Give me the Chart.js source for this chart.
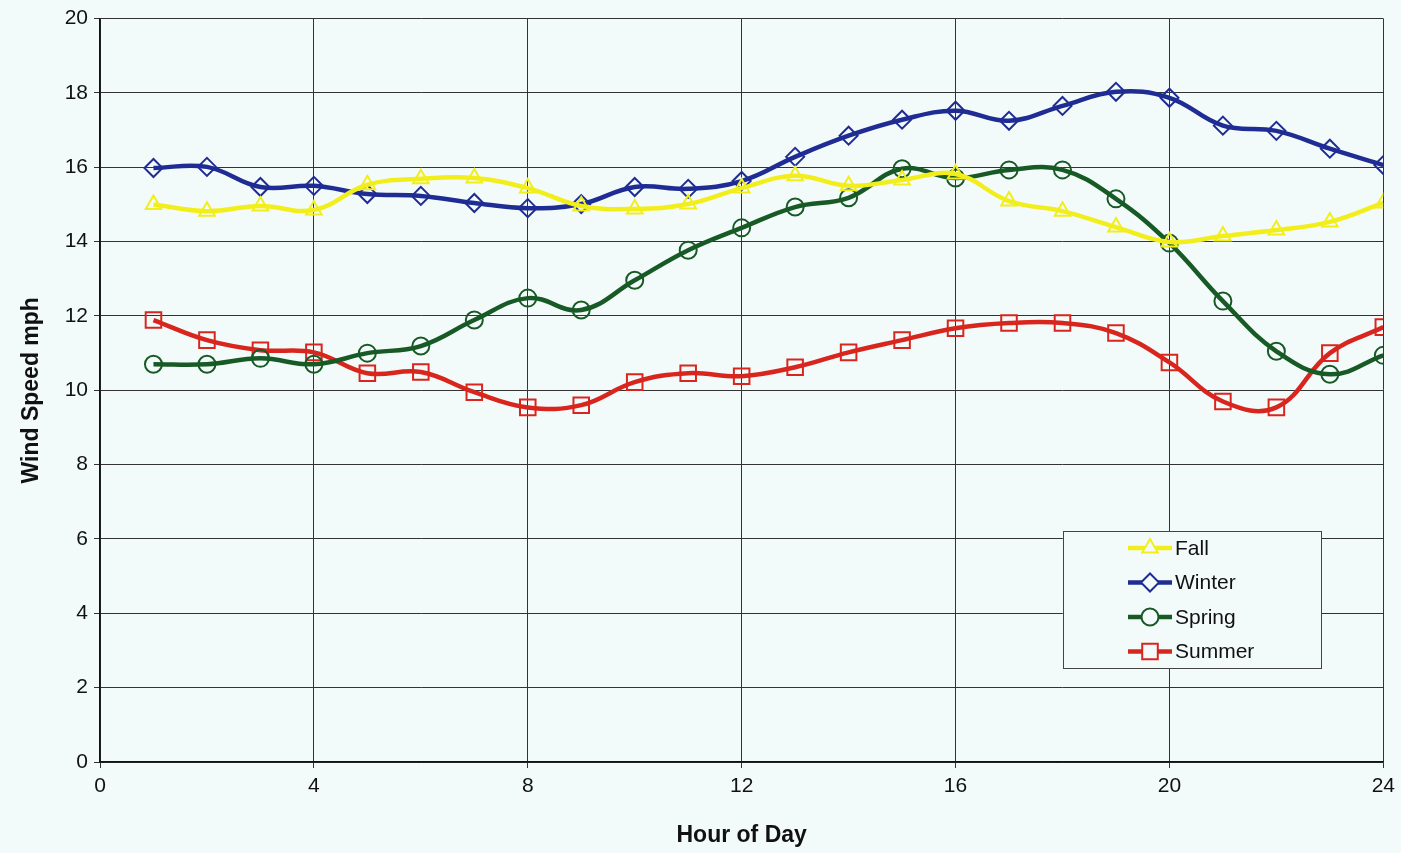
<!DOCTYPE html>
<html>
<head>
<meta charset="utf-8">
<script src="https://cdn.jsdelivr.net/npm/chart.js@4.4.0/dist/chart.umd.min.js"></script>
<style>
  html, body { margin: 0; padding: 0; background: #f3fbfa; }
  #wrap { width: 1401px; height: 853px; position: relative; }
</style>
</head>
<body>
<div id="wrap"><canvas id="wind-chart"></canvas></div>
<script>
var hours = [1, 2, 3, 4, 5, 6, 7, 8, 9, 10, 11, 12, 13, 14, 15, 16, 17, 18, 19, 20, 21, 22, 23, 24];
var fall = [15.0, 14.82, 14.96, 14.85, 15.53, 15.69, 15.71, 15.44, 14.96, 14.88, 15.01, 15.44,
            15.77, 15.5, 15.66, 15.82, 15.09, 14.82, 14.39, 13.99, 14.15, 14.31, 14.53, 15.04];
var winter = [15.98, 16.01, 15.47, 15.5, 15.28, 15.23, 15.04, 14.9, 15.01, 15.47, 15.42, 15.63,
              16.28, 16.85, 17.28, 17.52, 17.25, 17.65, 18.03, 17.87, 17.12, 16.98, 16.5, 16.06];
var spring = [10.7, 10.7, 10.86, 10.7, 11.0, 11.19, 11.89, 12.48, 12.16, 12.96, 13.77, 14.37,
              14.93, 15.18, 15.96, 15.71, 15.93, 15.93, 15.15, 13.96, 12.4, 11.05, 10.43, 10.94];
var summer = [11.89, 11.35, 11.08, 11.02, 10.46, 10.49, 9.95, 9.54, 9.6, 10.22, 10.46, 10.38,
              10.62, 11.02, 11.35, 11.67, 11.81, 11.81, 11.54, 10.75, 9.7, 9.54, 11.0, 11.7];

var seriesNames = ["Fall", "Winter", "Spring", "Summer"];
var seriesValues = [fall, winter, spring, summer];
var seriesColors = ["#f2ee1c", "#1f2c94", "#185a26", "#d8261e"];
var seriesMarkers = ["triangle", "rectRot", "circle", "rect"];
var markerSizes = [9, 9, 8.5, 11];

function points(vals) {
  return hours.map(function (h, i) { return { x: h, y: vals[i] }; });
}

var datasets = [];
for (var s = 0; s < seriesNames.length; s++) {
  datasets.push({
    label: seriesNames[s],
    data: points(seriesValues[s]),
    borderColor: seriesColors[s],
    backgroundColor: "rgba(0,0,0,0)",
    borderWidth: 4.5,
    tension: 0.4,
    pointStyle: seriesMarkers[s],
    pointRadius: markerSizes[s],
    pointBorderWidth: 2,
    pointBorderColor: seriesColors[s],
    pointBackgroundColor: "rgba(0,0,0,0)"
  });
}

// legend box drawn inside the plot, like the original
var boxLegend = {
  id: "boxLegend",
  afterDraw: function (chart) {
    var ctx = chart.ctx;
    var x0 = 1063, y0 = 531, w = 258, h = 137;
    ctx.save();
    ctx.fillStyle = "#f3fbfa";
    ctx.strokeStyle = "#444";
    ctx.lineWidth = 1;
    ctx.fillRect(x0, y0, w, h);
    ctx.strokeRect(x0 + 0.5, y0 + 0.5, w, h);
    ctx.font = "21px 'Liberation Sans', Arial, sans-serif";
    ctx.textBaseline = "middle";
    chart.data.datasets.forEach(function (ds, i) {
      var cy = 548 + i * 34.5;
      ctx.strokeStyle = ds.borderColor;
      ctx.lineWidth = 4.5;
      ctx.beginPath();
      ctx.moveTo(1128, cy);
      ctx.lineTo(1172, cy);
      ctx.stroke();
      ctx.fillStyle = "#f3fbfa";
      ctx.strokeStyle = ds.borderColor;
      ctx.lineWidth = 2;
      Chart.helpers.drawPoint(ctx, {
        pointStyle: ds.pointStyle, rotation: 0, borderWidth: 2,
        radius: ds.pointRadius
      }, 1150, cy);
      ctx.fillStyle = "#111";
      ctx.fillText(ds.label, 1175, cy + 1);
    });
    ctx.restore();
  }
};

new Chart(document.getElementById("wind-chart"), {
  type: "line",
  data: { datasets: datasets },
  plugins: [boxLegend],
  options: {
    responsive: true,
    maintainAspectRatio: false,
    animation: false,
    layout: { padding: { left: 14, right: 17, top: 14, bottom: 0 } },
    plugins: { legend: { display: false }, tooltip: { enabled: false } },
    scales: {
      x: {
        type: "linear",
        min: 0, max: 24,
        ticks: { stepSize: 4, color: "#111", padding: 6, font: { size: 21, family: "'Liberation Sans', Arial" } },
        grid: { color: "#333", lineWidth: 1, tickLength: 6 },
        border: { color: "#111", width: 1.5 },
        title: { display: true, text: "Hour of Day", color: "#111", padding: { top: 24 },
                 font: { size: 23, weight: "bold", family: "'Liberation Sans', Arial" } },
        afterFit: function (scale) { scale.height = 91; }
      },
      y: {
        min: 0, max: 20,
        ticks: { stepSize: 2, color: "#111", padding: 6, font: { size: 21, family: "'Liberation Sans', Arial" } },
        grid: { color: "#333", lineWidth: 1, tickLength: 6 },
        border: { color: "#111", width: 1.5 },
        title: { display: true, text: "Wind Speed mph", color: "#111", padding: { bottom: 4 },
                 font: { size: 23, weight: "bold", family: "'Liberation Sans', Arial" } },
        afterFit: function (scale) { scale.width = 86; }
      }
    }
  }
});
</script>
</body>
</html>
